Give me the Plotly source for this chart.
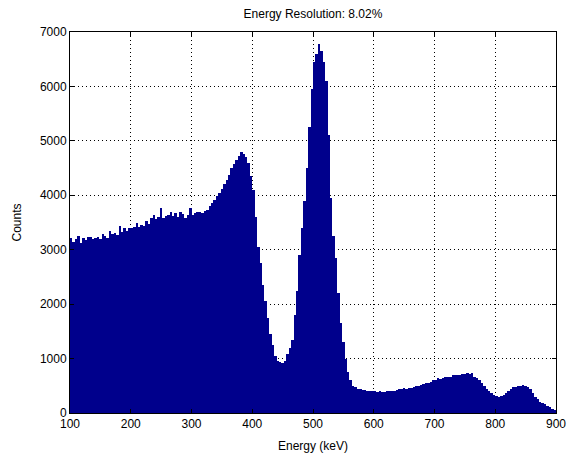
import plotly.graph_objects as go

# 4 keV bins from 100 to 900 keV (bin centers)
bin_width = 4
energy = list(range(102, 900, 4))

counts_100_200 = [3220, 3150, 3200, 3260, 3130, 3210, 3180, 3230, 3240, 3190,
                  3220, 3240, 3200, 3280, 3260, 3220, 3350, 3280, 3300, 3270,
                  3440, 3330, 3390, 3340, 3390]
counts_200_300 = [3400, 3420, 3500, 3410, 3450, 3430, 3520, 3480, 3580, 3640,
                  3560, 3600, 3770, 3580, 3620, 3640, 3700, 3620, 3670, 3600,
                  3700, 3650, 3580, 3640, 3760]
counts_300_400 = [3640, 3670, 3690, 3700, 3670, 3720, 3730, 3800, 3850, 3910,
                  3980, 4040, 4120, 4200, 4280, 4380, 4500, 4580, 4640, 4720,
                  4800, 4760, 4700, 4600, 4350]
counts_400_500 = [4100, 3600, 3050, 2750, 2350, 2050, 1750, 1450, 1250, 1050,
                  960, 940, 920, 960, 1080, 1200, 1350, 1800, 2250, 2900,
                  3400, 3900, 4500, 5250, 5950]
counts_500_600 = [6450, 6600, 6780, 6650, 6450, 6100, 5100, 3950, 3250, 2850,
                  2200, 1650, 1300, 1000, 750, 600, 500, 470, 450, 440,
                  430, 420, 410, 400, 410]
counts_600_700 = [400, 395, 400, 390, 395, 400, 400, 405, 410, 420,
                  440, 450, 455, 450, 460, 455, 480, 500, 495, 520,
                  540, 545, 560, 575, 600]
counts_700_800 = [610, 640, 630, 650, 665, 660, 670, 690, 700, 690,
                  700, 720, 710, 730, 720, 735, 660, 640, 610, 560,
                  490, 450, 400, 360, 330]
counts_800_900 = [310, 300, 305, 330, 370, 410, 440, 470, 480, 490,
                  500, 510, 495, 485, 440, 370, 300, 250, 210, 180,
                  160, 130, 115, 80, 50]

counts = (counts_100_200 + counts_200_300 + counts_300_400 + counts_400_500 +
          counts_500_600 + counts_600_700 + counts_700_800 + counts_800_900)

x_ticks = [100, 200, 300, 400, 500, 600, 700, 800, 900]
y_ticks = [0, 1000, 2000, 3000, 4000, 5000, 6000, 7000]

fig = go.Figure()
fig.add_trace(go.Bar(
    x=energy, y=counts, width=bin_width,
    marker=dict(color="#00008C", line=dict(width=0)),
    hoverinfo="x+y",
))

font_family = "Liberation Sans, Arial, sans-serif"
axis_common = dict(
    showline=True, linecolor="black", linewidth=1, mirror="ticks",
    ticks="inside", ticklen=4, tickcolor="black",
    showgrid=True, gridcolor="black", griddash="1px,3px", gridwidth=1,
    zeroline=False, automargin=False,
    tickfont=dict(family=font_family, size=12, color="black"),
)

fig.update_layout(
    width=567, height=461,
    margin=dict(l=70, r=11, t=32, b=48, autoexpand=False),
    paper_bgcolor="white", plot_bgcolor="white",
    bargap=0,
    showlegend=False,
    title=dict(text="Energy Resolution: 8.02%", x=0.552, xanchor="center",
               y=0.97, yanchor="middle",
               font=dict(family=font_family, size=12, color="black")),
    xaxis=dict(range=[100, 900], tickvals=x_ticks,
               title=dict(text="Energy (keV)", standoff=11,
                          font=dict(family=font_family, size=12, color="black")),
               **axis_common),
    yaxis=dict(range=[0, 7000], tickvals=y_ticks,
               title=dict(text="Counts", standoff=15,
                          font=dict(family=font_family, size=12, color="black")),
               **axis_common),
)

fig.write_html(
    "out.html",
    config={"displayModeBar": False},
    post_script="document.body.style.margin='0';document.body.style.padding='0';"
                "document.body.style.overflow='hidden';",
)
